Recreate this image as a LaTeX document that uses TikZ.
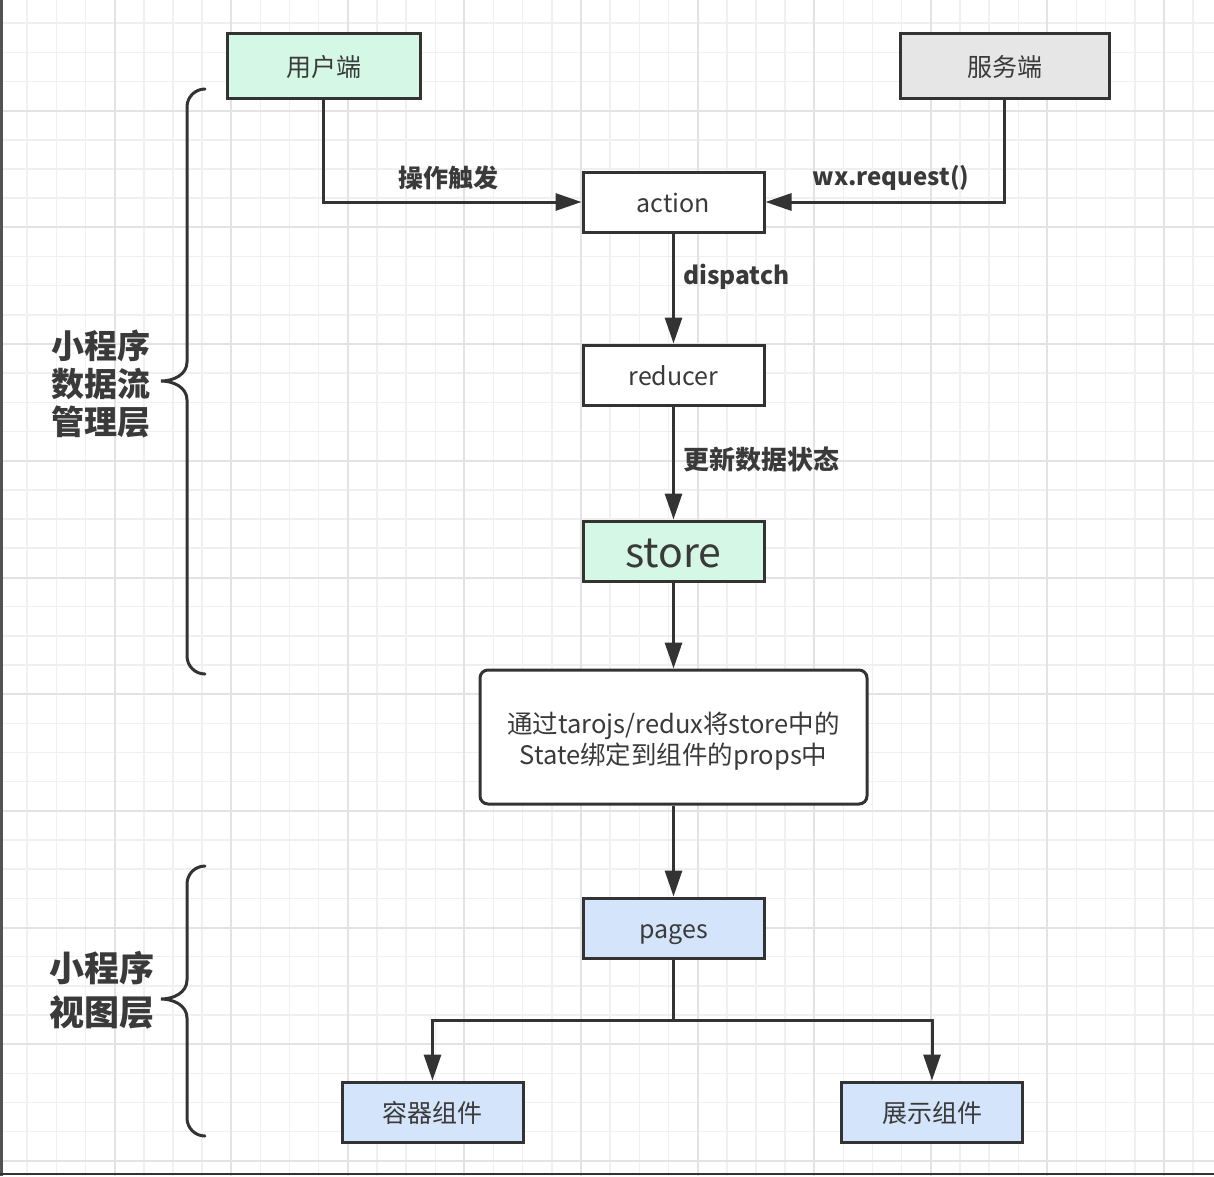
\documentclass[tikz,border=0pt]{standalone}
\usepackage{fontspec}
\setmainfont{Noto Sans CJK SC}
\usetikzlibrary{arrows.meta}
\definecolor{ink}{HTML}{333333}
\definecolor{txt}{HTML}{3A3A3A}
\definecolor{mint}{HTML}{D5F8E6}
\definecolor{greyfill}{HTML}{E6E6E6}
\definecolor{bluefill}{HTML}{D4E5FB}
\definecolor{gridminor}{HTML}{F0F0F0}
\definecolor{gridmajor}{HTML}{E3E3E3}
\tikzset{
  box/.style={draw=ink, line width=3pt, fill=white, text=txt, minimum width=181pt, minimum height=60pt, inner sep=0pt, text height=24pt, text depth=3pt, font=\fontsize{25pt}{30pt}\selectfont},
  arr/.style={draw=ink, line width=3pt, -{Triangle[length=26pt,width=17pt]}},
  plain/.style={draw=ink, line width=3pt},
  lbl/.style={text=txt, font=\fontsize{25pt}{30pt}\selectfont\bfseries, inner sep=0pt},
  side/.style={text=txt, font=\fontsize{33pt}{40pt}\selectfont\bfseries, align=center, inner sep=0pt},
  brace/.style={draw=ink, line width=3pt, line cap=round}
}
\begin{document}
\begin{tikzpicture}[x=1pt,y=-1pt]
\useasboundingbox (0,0) rectangle (1214,1176);
\fill[white] (0,0) rectangle (1214,1176);
% grid
\foreach \i in {0,...,42} {
  \pgfmathsetmacro{\gx}{-2+29.15*\i}
  \pgfmathsetmacro{\gy}{-6+29.17*\i}
  \draw[gridminor, line width=1.5pt] (\gx,0) -- (\gx,1176);
  \draw[gridminor, line width=1.5pt] (0,\gy) -- (1214,\gy);
}
\foreach \i in {0,...,11} {
  \pgfmathsetmacro{\gx}{-2+116.6*\i}
  \pgfmathsetmacro{\gy}{-6+116.7*\i}
  \draw[gridmajor, line width=2pt] (\gx,0) -- (\gx,1176);
  \draw[gridmajor, line width=2pt] (0,\gy) -- (1214,\gy);
}
\fill[ink!85] (0,0) rectangle (3,1176);
\draw[ink, line width=2pt] (0,1174) -- (1214,1174);

% nodes
\node[box, fill=mint, minimum width=193pt, minimum height=65pt] (user) at (323.5,65.5) {用户端};
\node[box, fill=greyfill, minimum width=209pt, minimum height=65pt] (server) at (1004.5,65.5) {服务端};
\node[box] (action) at (673.5,202) {action};
\node[box] (reducer) at (673.5,375) {reducer};
\node[box, fill=mint, font=\fontsize{41pt}{44pt}\selectfont, text height=37pt, text depth=4pt] (store) at (673.5,551) {store};
\node[box, minimum width=387pt, minimum height=134pt, rounded corners=8pt] (bind) at (673.5,737) {};
\node[text=txt, align=center, inner sep=0pt, font=\fontsize{25.5pt}{31pt}\selectfont] (bindtext) at ([yshift=-4.5pt]bind.center) {通过tarojs/redux将store中的\\State绑定到组件的props中};
\node[box, fill=bluefill] (pages) at (673.5,928) {pages};
\node[box, fill=bluefill] (cont) at (432.5,1112) {容器组件};
\node[box, fill=bluefill] (show) at (932,1112) {展示组件};

% connectors
\draw[arr] (user.south) |- (action.west);
\draw[arr] (server.south) |- (action.east);
\draw[arr] (action) -- (reducer);
\draw[arr] (reducer) -- (store);
\draw[arr] (store) -- (bind);
\draw[arr] (bind) -- (pages);
\coordinate (split) at (673.5,1020);
\draw[plain] (pages.south) -- (split);
\draw[arr] (split) -| (cont.north);
\draw[arr] (split) -| (show.north);

% labels
\node[lbl] (l1) at (448.5,178) {操作触发};
\node[lbl, font=\fontsize{24pt}{30pt}\selectfont\bfseries] (l2) at (891,178) {wx.request()};
\node[lbl, anchor=west, font=\fontsize{24.5pt}{30pt}\selectfont\bfseries] (l3) at (683,277) {dispatch};
\node[lbl, anchor=west, font=\fontsize{26pt}{30pt}\selectfont\bfseries] (l4) at (683,460) {更新数据状态};

% braces
\draw[brace] (205,89) to[out=180,in=90] (187,107) -- (187,362)
  to[out=-90,in=0] (161,381) to[out=0,in=90] (187,400) -- (187,656)
  to[out=-90,in=180] (205,674);
\draw[brace] (205,866) to[out=180,in=90] (187,884) -- (187,980)
  to[out=-90,in=0] (161,999) to[out=0,in=90] (187,1018) -- (187,1118)
  to[out=-90,in=180] (205,1136);

\node[side] (t1) at (101,384) {小程序\\[-2pt]数据流\\[-2pt]管理层};
\node[side, font=\fontsize{35pt}{44pt}\selectfont\bfseries] (t2) at (102,990) {小程序\\视图层};
\end{tikzpicture}
\end{document}
